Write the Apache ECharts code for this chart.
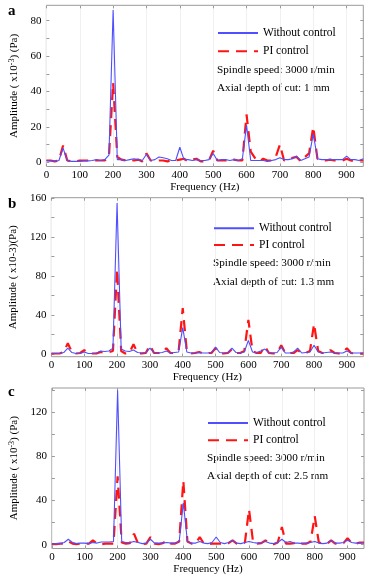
<!DOCTYPE html>
<html>
<head>
<meta charset="utf-8">
<script src="https://cdn.jsdelivr.net/npm/echarts@6/dist/echarts.min.js"></script>
<style>
html,body{margin:0;padding:0;background:#fff;}
#chart{width:373px;height:578px;}
</style>
</head>
<body>
<div id="chart"></div>
<script>
// Frequency bins (Hz)
var freq = [0,12.5,25,37.5,50,62.5,75,87.5,100,112.5,125,137.5,150,162.5,175,187.5,200,212.5,225,237.5,
  250,262.5,275,287.5,300,312.5,325,337.5,350,362.5,375,387.5,400,412.5,425,437.5,450,462.5,475,487.5,
  500,512.5,525,537.5,550,562.5,575,587.5,600,612.5,625,637.5,650,662.5,675,687.5,700,712.5,725,737.5,
  750,762.5,775,787.5,800,812.5,825,837.5,850,862.5,875,887.5,900,912.5,925,937.5,950];

// Panel a: axial depth 1 mm
var aWithout = [1,0.8,0.5,1,8,1,0.5,0.5,0.5,0.8,
  0.8,1,1.5,1,1.5,4,86,1.5,1.5,1,
  1.5,2,1.5,1,4.5,1,1.5,3,2.5,2,
  1,1,8.5,1.5,1.5,1,1.5,1,1,1.5,
  5,1,1.5,1.5,1,1.5,1,2,21,1,
  1,1,1,0.5,1,1.5,2.5,1.5,1.5,2,
  3.5,1,2,3,16,2,1.5,1.5,1.5,1.5,
  1.5,1.5,3.5,1.5,1.5,1,2];
var aPI = [1,1,0.5,1,9.5,1,0.5,0.5,1,1,
  1,1,1,1,1,3,45,3,1.5,1,
  1.5,1,1.5,0.5,5,1,0.5,1,1,0.5,
  1,1,1.5,2,0.5,1.5,2,0.5,0.5,1,
  6.5,1,1,1,1.5,1.5,1,1,27,6,
  2.5,0.5,2,1,1,3,10,1,1,2.5,
  3,0.5,3,5,20,2,1,1,1.5,1,
  1,1,2,1,0.5,1,1];

// Panel b: axial depth 1.3 mm
var bWithout = [0.5,0.5,0.5,1.5,6,1.5,0.5,0.5,2,0.5,
  0.5,1,3,2.5,3,6,155,5,3,2.5,
  4,1.5,1,1.5,6,1.5,1,1.5,3,1,
  1.5,2,27,2,1,1,1.5,1,1,1.5,
  7,1.5,1,1.5,6,1.5,1,2,14,2,
  1.5,3,5,1.5,1,1.5,7,1,1,2,
  6,1,1.5,2,9,2,1,1.5,2,1,
  1,1,3,1,1,1,1];
var bPI = [0.5,0.5,0.5,2,11,2,0.5,1,4,1,
  0.5,0.5,2,2,2,3,87,3,0.5,1,
  10,1,0.5,1,9,1,1,1,6,1,
  1,3,47,3,0.5,1,2,0.5,1,1,
  6,1,0.5,1,5,1,1,3,35,3,
  1,1,8,1,0.5,1,9,1,1,1,
  4,1,1,3,31,3,1,1,4,1,
  0.5,1,6,1,0.5,0.5,0.5];

// Panel c: axial depth 2.5 mm
var cWithout = [0.5,1,1,2,5,2,1,1.5,1.5,1,
  2,1.5,2.5,2.5,2.5,3,140,3,2,2,
  3,2,1,1.5,5,1.5,1.5,1.5,2,1.5,
  1.5,3,38,3,1.5,1.5,3,1.5,1,2,
  7,2,1,2,4,1.5,1,2,3,2,
  1.5,2,3,1.5,1,2,5,2,3,1.5,
  1.5,1,1.5,2,3,1.5,1,1.5,4,1.5,
  1.5,2,4,2,1.5,1.5,2];
var cPI = [0.5,0.5,1,1,3,1,0.5,1,1,1,
  4,1,0.5,1,1,1,62,2,1,1.5,
  10,1,0.5,1,7,1,0.5,1.5,4,1,
  1,3,58,3,1,1,7,1,0.5,1,
  1,1,1,1.5,4,1,1,2,32,2,
  1,1.5,4,1,0.5,2,16,1,1,1.5,
  3,1,1,3,26,2,1,1,4,1,
  2,1.5,6,1.5,1,2,2];

// Tick labels
var xTicks = [0,100,200,300,400,500,600,700,800,900];
var aYLabels = [0,20,40,60,80];
var aYTicks = [0,10,20,30,40,50,60,70,80];
var bYLabels = [0,40,80,120,160];
var bYTicks = [0,20,40,60,80,100,120,140,160];
var cYLabels = [0,40,80,120];
var cYTicks = [0,20,40,60,80,100,120,140];

var seriesNames = ['Without control', 'PI control'];
var panelLetters = ['a', 'b', 'c'];
var spindleText = 'Spindle speed: 3000 r/min';
var depthTexts = ['Axial depth of cut: 1 mm', 'Axial depth of cut: 1.3 mm', 'Axial depth of cut: 2.5 mm'];

function pairs(vals) {
  return vals.map(function (v, i) { return [freq[i], v]; });
}

var FONT = '"Liberation Serif","Times New Roman",serif';
var BLUE = '#4f4fff';
var RED = '#ff1414';
var FRAME = '#9a9a9a';

var panels = [
  {top: 5.3, height: 161.2, right: 9.7, ymin: -2.4, ymax: 88.7, labels: aYLabels, ticks: aYTicks,
   w: aWithout, p: aPI, supName: true, legLeft: 217, legTop: 27, legGap: 6.3, t1: 64.5, t2: 82.8, letterY: 3.5},
  {top: 197.7, height: 159, right: 9.7, ymin: -2.8, ymax: 160.5, labels: bYLabels, ticks: bYTicks,
   w: bWithout, p: bPI, supName: false, legLeft: 213, legTop: 222.3, legGap: 4.7, t1: 257.8, t2: 276.5, letterY: 196.5},
  {top: 388, height: 160.5, right: 9, ymin: -3.4, ymax: 142, labels: cYLabels, ticks: cYTicks,
   w: cWithout, p: cPI, supName: true, legLeft: 207, legTop: 417, legGap: 5.3, t1: 452.1, t2: 470.8, letterY: 384.5}
];

var grid = [], xAxis = [], yAxis = [], series = [], legend = [], graphic = [];

panels.forEach(function (pn, i) {
  grid.push({left: 42, right: pn.right, top: pn.top, height: pn.height,
    show: true, borderColor: FRAME, borderWidth: 1, backgroundColor: 'transparent'});
  xAxis.push({
    type: 'value', gridIndex: i, min: 0, max: 950, position: 'bottom',
    name: 'Frequency (Hz)', nameLocation: 'middle', nameGap: 8,
    nameTextStyle: {fontFamily: FONT, fontSize: 11, color: '#000'},
    axisLine: {show: false, onZero: false},
    axisTick: {show: true, inside: true, length: 3, lineStyle: {color: FRAME}, customValues: xTicks},
    axisLabel: {fontFamily: FONT, fontSize: 11, color: '#000', margin: 3, customValues: xTicks},
    splitLine: {show: true, lineStyle: {color: '#f0f0f0', width: 1}}
  });
  xAxis.push({
    type: 'value', gridIndex: i, min: 0, max: 950, position: 'top',
    axisLine: {show: false, onZero: false},
    axisTick: {show: true, inside: true, length: 3, lineStyle: {color: FRAME}, customValues: xTicks},
    axisLabel: {show: false},
    splitLine: {show: false}
  });
  var yName = pn.supName ? 'Amplitude ( x10{sup|-3}) (Pa)' : 'Amplitude ( x10-3)(Pa)';
  yAxis.push({
    type: 'value', gridIndex: i, min: pn.ymin, max: pn.ymax, position: 'left',
    name: yName, nameLocation: 'middle', nameGap: 19,
    nameTextStyle: {fontFamily: FONT, fontSize: 11, color: '#000',
      rich: {sup: {fontFamily: FONT, fontSize: 8, color: '#000', verticalAlign: 'top', padding: [0, 0, 4, 0]}}},
    axisLine: {show: false, onZero: false},
    axisTick: {show: true, inside: true, length: 3, lineStyle: {color: FRAME}, customValues: pn.ticks},
    axisLabel: {fontFamily: FONT, fontSize: 11, color: '#000', margin: 5, customValues: pn.labels},
    splitLine: {show: false}
  });
  yAxis.push({
    type: 'value', gridIndex: i, min: pn.ymin, max: pn.ymax, position: 'right',
    axisLine: {show: false, onZero: false},
    axisTick: {show: true, inside: true, length: 3, lineStyle: {color: FRAME}, customValues: pn.ticks},
    axisLabel: {show: false},
    splitLine: {show: false}
  });
  series.push({
    name: seriesNames[0], type: 'line', xAxisIndex: 2 * i, yAxisIndex: 2 * i,
    data: pairs(pn.w), symbol: 'none', showSymbol: false, z: 3,
    lineStyle: {color: BLUE, width: 1.1}, itemStyle: {color: BLUE}
  });
  series.push({
    name: seriesNames[1], type: 'line', xAxisIndex: 2 * i, yAxisIndex: 2 * i,
    data: pairs(pn.p), symbol: 'none', showSymbol: false, z: 2,
    lineStyle: {color: RED, width: 2.2, type: [11, 7]}, itemStyle: {color: RED}
  });
  legend.push({
    data: seriesNames, orient: 'vertical', left: pn.legLeft, top: pn.legTop,
    padding: 0, itemWidth: 40, itemHeight: 12, itemGap: pn.legGap,
    selectedMode: false,
    itemStyle: {opacity: 0, color: 'rgba(0,0,0,0)', borderColor: 'rgba(0,0,0,0)', borderWidth: 0},
    textStyle: {fontFamily: FONT, fontSize: 11.5, color: '#000', lineHeight: 12}
  });
  graphic.push({type: 'text', left: pn.legLeft, top: pn.t1,
    style: {text: spindleText, font: '11.2px ' + FONT, fill: '#000'}});
  graphic.push({type: 'text', left: pn.legLeft, top: pn.t2,
    style: {text: depthTexts[i], font: '11.2px ' + FONT, fill: '#000'}});
  graphic.push({type: 'text', left: 8, top: pn.letterY,
    style: {text: panelLetters[i], font: 'bold 15px ' + FONT, fill: '#000'}});
});

var chart = echarts.init(document.getElementById('chart'), null, {renderer: 'canvas'});
chart.setOption({
  animation: false,
  backgroundColor: '#fff',
  grid: grid, xAxis: xAxis, yAxis: yAxis, series: series, legend: legend, graphic: graphic
});
</script>
</body>
</html>
